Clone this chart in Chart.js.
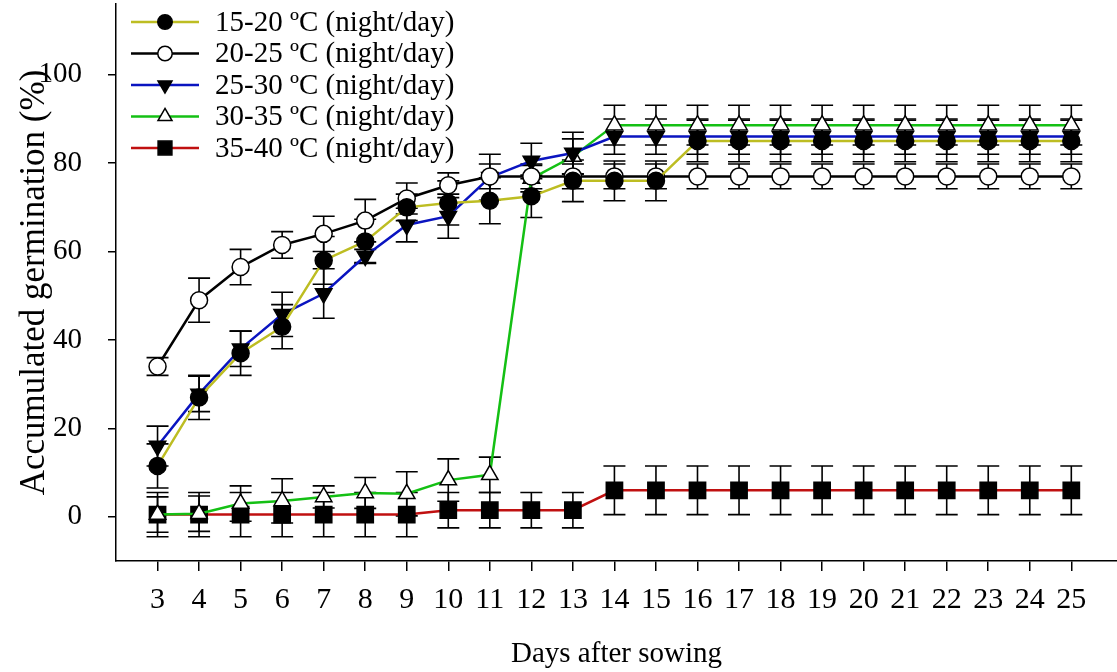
<!DOCTYPE html>
<html>
<head>
<meta charset="utf-8">
<script src="https://cdn.jsdelivr.net/npm/chart.js@4.4.1/dist/chart.umd.min.js"></script>
<style>
  html, body { margin: 0; padding: 0; background: #fff; }
  canvas { display: block; }
</style>
</head>
<body>
<canvas id="germChart" width="1117" height="672"></canvas>
<script>
// days after sowing
const days = [3, 4, 5, 6, 7, 8, 9, 10, 11, 12, 13, 14, 15, 16, 17, 18, 19, 20, 21, 22, 23, 24, 25];

// mean accumulated germination (%) per regime
const t15_20 = [11.5, 27, 37, 43, 58, 62.3, 70, 71, 71.5, 72.5, 76, 76, 76, 85, 85, 85, 85, 85, 85, 85, 85, 85, 85];
const t20_25 = [34, 49, 56.5, 61.5, 64, 67, 72, 75, 77, 77, 77, 77, 77, 77, 77, 77, 77, 77, 77, 77, 77, 77, 77];
const t25_30 = [16, 27.8, 38, 45.8, 50.5, 59, 66, 68, 76.8, 80.5, 82.3, 86, 86, 86, 86, 86, 86, 86, 86, 86, 86, 86, 86];
const t30_35 = [0.5, 0.7, 3, 3.6, 4.5, 5.4, 5.2, 8.3, 9.5, 76.5, 81.5, 88.6, 88.6, 88.6, 88.6, 88.6, 88.6, 88.6, 88.6, 88.6, 88.6, 88.6, 88.6];
const t35_40 = [0.5, 0.5, 0.5, 0.5, 0.5, 0.5, 0.5, 1.5, 1.5, 1.5, 1.5, 6, 6, 6, 6, 6, 6, 6, 6, 6, 6, 6, 6];

// error (±) per regime
const e15_20 = [5, 5, 5, 5, 5.4, 5, 3, 5, 5.2, 4.8, 4.7, 4.5, 4.5, 4.7, 4.7, 4.7, 4.7, 4.7, 4.7, 4.7, 4.7, 4.7, 4.7];
const e20_25 = [2, 5, 4, 3, 4, 4.8, 3.5, 2.8, 2.8, 2.8, 2.8, 2.8, 2.8, 2.8, 2.8, 2.8, 2.8, 2.8, 2.8, 2.8, 2.8, 2.8, 2.8];
const e25_30 = [4.5, 4, 4, 5, 5.6, 1.5, 3.8, 5, 5.2, 4, 4.7, 4, 4, 4, 4, 4, 4, 4, 4, 4, 4, 4, 4];
const e30_35 = [4, 4, 4, 5, 2.5, 3.5, 5, 4.8, 4, 3, 4, 4.5, 4.5, 4.5, 4.5, 4.5, 4.5, 4.5, 4.5, 4.5, 4.5, 4.5, 4.5];
const e35_40 = [5, 5, 5, 5, 5, 5, 5, 4, 4, 4, 4, 5.5, 5.5, 5.5, 5.5, 5.5, 5.5, 5.5, 5.5, 5.5, 5.5, 5.5, 5.5];

const labels = ['15-20 ºC (night/day)', '20-25 ºC (night/day)', '25-30 ºC (night/day)', '30-35 ºC (night/day)', '35-40 ºC (night/day)'];
const means = [t15_20, t20_25, t25_30, t30_35, t35_40];
const errs = [e15_20, e20_25, e25_30, e30_35, e35_40];
const lineColors = ['#BDBD22', '#000000', '#0A14C0', '#14C014', '#C01010'];
const fills = ['#000000', '#ffffff', '#000000', '#ffffff', '#000000'];
const styles = ['circle', 'circle', 'triangle', 'triangle', 'rect'];
const rotations = [0, 0, 180, 0, 0];
const radii = [8.5, 8.5, 9.5, 9.5, 11.5];

const FONT = 'Liberation Serif, Times New Roman, serif';

// error bars drawn behind the markers
const errorBars = {
    id: 'errorBars',
    beforeDatasetsDraw(chart) {
        const ctx = chart.ctx;
        const yScale = chart.scales.y;
        ctx.save();
        ctx.strokeStyle = '#000';
        ctx.lineWidth = 1.6;
        chart.data.datasets.forEach((ds, di) => {
            const meta = chart.getDatasetMeta(di);
            meta.data.forEach((pt, i) => {
                const m = means[di][i];
                const e = errs[di][i];
                const x = pt.x;
                const yTop = yScale.getPixelForValue(m + e);
                const yBot = yScale.getPixelForValue(m - e);
                ctx.beginPath();
                ctx.moveTo(x, yTop); ctx.lineTo(x, yBot);
                ctx.moveTo(x - 11, yTop); ctx.lineTo(x + 11, yTop);
                ctx.moveTo(x - 11, yBot); ctx.lineTo(x + 11, yBot);
                ctx.stroke();
            });
        });
        ctx.restore();
    }
};

// legend inside the plot, line + marker sample
const innerLegend = {
    id: 'innerLegend',
    afterDraw(chart) {
        const ctx = chart.ctx;
        ctx.save();
        chart.data.datasets.forEach((ds, i) => {
            const y = 22 + 31.5 * i;
            ctx.strokeStyle = ds.borderColor;
            ctx.lineWidth = 2.5;
            ctx.beginPath();
            ctx.moveTo(131, y); ctx.lineTo(199, y);
            ctx.stroke();
            ctx.fillStyle = fills[i];
            ctx.strokeStyle = '#000';
            ctx.lineWidth = 1.5;
            Chart.helpers.drawPoint(ctx, {
                pointStyle: styles[i], rotation: rotations[i],
                radius: radii[i] * 0.85, borderWidth: 1.5
            }, 165, y);
            ctx.fillStyle = '#000';
            ctx.font = '29px ' + FONT;
            ctx.textAlign = 'left';
            ctx.textBaseline = 'middle';
            ctx.fillText(ds.label, 215, y + 1);
        });
        ctx.restore();
    }
};

const datasets = labels.map((lab, i) => ({
    label: lab,
    data: days.map((d, j) => ({ x: d, y: means[i][j] })),
    borderColor: lineColors[i],
    borderWidth: 2.5,
    backgroundColor: fills[i],
    pointBackgroundColor: fills[i],
    pointBorderColor: '#000',
    pointBorderWidth: 1.5,
    pointStyle: styles[i],
    pointRotation: rotations[i],
    pointRadius: radii[i],
    tension: 0,
    order: i
}));

new Chart(document.getElementById('germChart'), {
    type: 'line',
    data: { datasets },
    options: {
        responsive: false,
        animation: false,
        layout: { autoPadding: false, padding: { top: 4, right: 0, left: 0, bottom: 0 } },
        plugins: { legend: { display: false }, tooltip: { enabled: false } },
        scales: {
            x: {
                type: 'linear',
                min: 2,
                max: 26.1,
                afterBuildTicks: (s) => { s.ticks = days.map(v => ({ value: v })); },
                afterFit: (s) => { s.height = 111; s.paddingLeft = 0; s.paddingRight = 0; },
                grid: { drawOnChartArea: false, drawTicks: true, tickLength: 10, color: '#000', lineWidth: 1.5 },
                border: { display: true, color: '#000', width: 1.5 },
                ticks: { color: '#000', font: { family: FONT, size: 30 }, padding: 11, autoSkip: false, maxRotation: 0 },
                title: { display: true, text: 'Days after sowing', color: '#000', font: { family: FONT, size: 29 }, padding: { top: 0, bottom: 0 } }
            },
            y: {
                min: -10,
                max: 116,
                afterBuildTicks: (s) => { s.ticks = [0, 20, 40, 60, 80, 100].map(v => ({ value: v })); },
                afterFit: (s) => { s.width = 116; s.paddingTop = 0; s.paddingBottom = 0; },
                grid: { drawOnChartArea: false, drawTicks: true, tickLength: 8, color: '#000', lineWidth: 1.5 },
                border: { display: true, color: '#000', width: 1.5 },
                ticks: { color: '#000', font: { family: FONT, size: 29 }, padding: 26 },
                title: { display: true, text: 'Accumulated germination (%)', color: '#000', font: { family: FONT, size: 35 }, padding: { top: 14, bottom: 0 } }
            }
        }
    },
    plugins: [errorBars, innerLegend]
});
</script>
</body>
</html>
